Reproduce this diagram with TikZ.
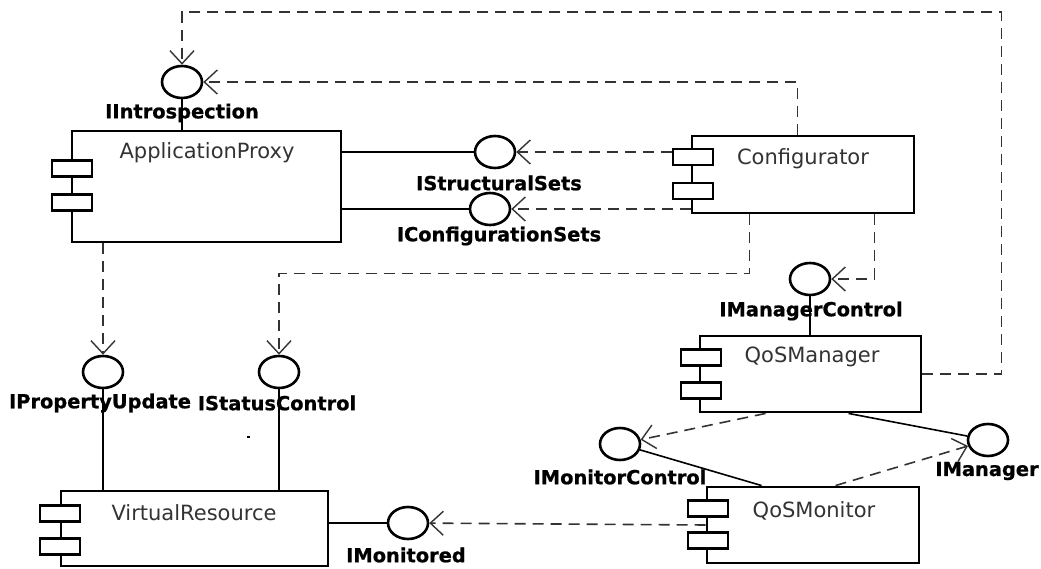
\documentclass[tikz,border=0pt]{standalone}
\usepackage{fontspec}
\setmainfont{DejaVu Sans}
\newfontfamily\labelfont[FakeBold=0.8]{DejaVu Sans Bold}
\usetikzlibrary{arrows.meta,shapes.geometric}
\begin{document}
\begin{tikzpicture}[x=1pt,y=-1pt,
  comp/.style={draw,line width=2.9pt,fill=white,inner sep=0pt},
  port/.style={draw,line width=2.4pt,fill=white,minimum width=40pt,minimum height=16pt,inner sep=0pt},
  iface/.style={ellipse,draw,line width=2.6pt,fill=white,minimum width=40pt,minimum height=32pt,inner sep=0pt},
  cname/.style={text=black!80,inner sep=0pt,font=\fontsize{21}{24}\selectfont},
  iname/.style={inner sep=0pt,font=\labelfont\fontsize{19.4}{22}\selectfont},
  wire/.style={line width=1.6pt},
  dep/.style={line width=1.6pt,black!80,dash pattern=on 11pt off 7pt,
    -{Straight Barb[length=13pt,width=24pt,line width=1.4pt]}},
]
\fill[white] (0,0) rectangle (1041,569);
\useasboundingbox (0,0) rectangle (1041,569);

% components
\node[comp,minimum width=269pt,minimum height=111pt] (ap) at (206.5,186.5) {};
\node[comp,minimum width=222pt,minimum height=77pt] (cf) at (803,174.5) {};
\node[comp,minimum width=221pt,minimum height=76pt] (qm) at (810.5,374) {};
\node[comp,minimum width=212pt,minimum height=76pt] (qmon) at (813,525) {};
\node[comp,minimum width=267pt,minimum height=75pt] (vr) at (194.5,528.5) {};

% component ports
\node[port] (ap-p1) at (72,168.5) {};
\node[port] (ap-p2) at (72,202.5) {};
\node[port] (cf-p1) at (693,157) {};
\node[port] (cf-p2) at (693,191) {};
\node[port] (qm-p1) at (701,357.5) {};
\node[port] (qm-p2) at (701,390.5) {};
\node[port] (qmon-p1) at (708,508.5) {};
\node[port] (qmon-p2) at (708,540.5) {};
\node[port] (vr-p1) at (60,513.5) {};
\node[port] (vr-p2) at (60,546.5) {};

% component names
\node[cname] (ap-name) at (207,153) {ApplicationProxy};
\node[cname] (cf-name) at (803,159) {Configurator};
\node[cname] (qm-name) at (812,357) {QoSManager};
\node[cname] (qmon-name) at (814,511) {QoSMonitor};
\node[cname] (vr-name) at (194,513) {VirtualResource};

% interfaces
\node[iface] (ii) at (182,82) {};
\node[iface] (iss) at (495,152) {};
\node[iface] (ics) at (490,209) {};
\node[iface] (imc) at (810,279) {};
\node[iface] (ipu) at (103,372) {};
\node[iface] (isc) at (279,372) {};
\node[iface] (imonc) at (620,444) {};
\node[iface] (imgr) at (988,440) {};
\node[iface] (imon) at (408,523) {};

% provided interfaces (solid)
\draw[wire] (ii) -- (ii |- ap.north);
\draw[wire] (ap.east |- iss) -- (iss);
\draw[wire] (ap.east |- ics) -- (ics);
\draw[wire] (imc) -- (imc |- qm.north);
\draw[wire] (ipu) -- (ipu |- vr.north);
\draw[wire] (isc) -- (isc |- vr.north);
\draw[wire] (vr.east |- imon) -- (imon);
\draw[wire] ([xshift=150pt]qm.south west) -- (imgr);
\draw[wire] (imonc) -- ([xshift=56pt]qmon.north west);

% dependencies (dashed)
\draw[dep] (cf-p1.west |- iss) -- (iss);
\draw[dep] (cf.west |- ics) -- (ics);
\draw[dep] ([xshift=107pt]cf.north west) |- (ii);
\draw[dep] (qm.east) -- ++(79,0) |- (ii |- 0,12) -- (ii);
\draw[dep] (ipu |- ap.south) -- (ipu);
\draw[dep] ([xshift=59pt]cf.south west) -- ++(0,59) -| (isc);
\draw[dep] ([xshift=184pt]cf.south west) |- (imc);
\draw[dep] ([xshift=67pt]qm.south west) -- (imonc);
\draw[dep] ([xshift=130pt]qmon.north west) -- (imgr);
\draw[dep] (qmon.west) -- (imon);

% interface names
\node[iname] (ii-name) at (182,113) {IIntrospection};
\node[iname] (iss-name) at (499,183) {IStructuralSets};
\node[iname] (ics-name) at (499,236) {IConfigurationSets};
\node[iname] (imc-name) at (811,311) {IManagerControl};
\node[iname] (ipu-name) at (100,403) {IPropertyUpdate};
\node[iname] (isc-name) at (277,403) {IStatusControl};
\node[iname] (imonc-name) at (620,477) {IMonitorControl};
\node[iname] (imgr-name) at (987,471) {IManager};
\node[iname] (imon-name) at (406,555) {IMonitored};

% stray tick
\draw[line width=1.2pt] (247,437) -- (250,437);
\end{tikzpicture}
\end{document}
